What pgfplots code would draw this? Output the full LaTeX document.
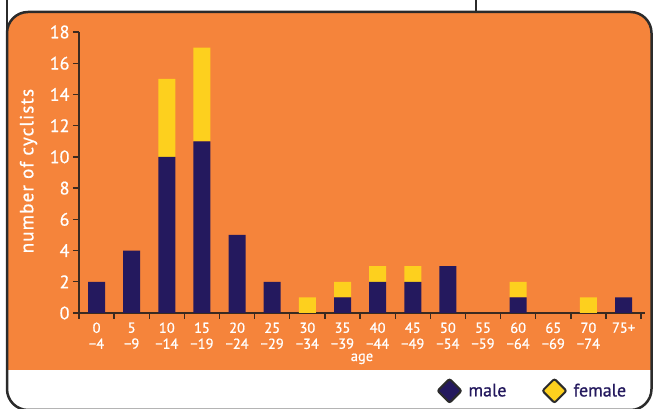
\documentclass[border=0pt]{standalone}
\usepackage{pgfplots}
\pgfplotsset{compat=1.18}
\usepackage{fontspec}
\setmainfont[FakeBold=0.8]{PT Sans}
\newfontfamily\lblfont[LetterSpace=6,FakeBold=0.8]{PT Sans}
\definecolor{bgorange}{HTML}{F5843B}
\definecolor{navy}{HTML}{24195E}
\definecolor{gold}{HTML}{FDD01E}
\definecolor{framec}{HTML}{2B2B2B}
\definecolor{axisc}{HTML}{3A2A20}
\begin{document}
\begin{tikzpicture}
\path[use as bounding box] (0pt,0pt) rectangle (653pt,409pt);
\begin{scope}
\clip[rounded corners=21pt] (7pt,-1pt) rectangle (651.5pt,397pt);
\fill[white] (0pt,-2pt) rectangle (653pt,409pt);
\fill[bgorange] (0pt,39pt) rectangle (653pt,409pt);
\end{scope}
\draw[framec, line width=2.5pt, rounded corners=21pt] (7pt,-1pt) rectangle (651.5pt,397pt);
\draw[framec, line width=2.5pt] (7pt,409pt) -- (7pt,370pt);
\draw[framec, line width=2pt] (476pt,409pt) -- (476pt,397pt);
\begin{axis}[
  at={(79pt,96pt)}, anchor=south west,
  scale only axis, width=566pt, height=281pt,
  xmin=-0.5, xmax=15.61, ymin=0, ymax=18,
  ybar stacked, bar width=17pt,
  axis x line=bottom, axis y line=left,
  axis line style={axisc, line width=1.3pt, -},
  tick style={axisc, line width=1.3pt},
  tick align=outside, major tick length=6pt,
  xtick={-0.5,0.5,...,15.5},
  xticklabels={{0\\−4},{5\\−9},{10\\−14},{15\\−19},{20\\−24},{25\\−29},{30\\−34},{35\\−39},{40\\−44},{45\\−49},{50\\−54},{55\\−59},{60\\−64},{65\\−69},{70\\−74},{75+},{}},
  xticklabel style={xshift=17.56pt, align=center, text=white, font=\fontsize{14.5}{16}\selectfont},
  ytick={0,2,...,18},
  yticklabel style={text=white, font=\fontsize{18}{18}\selectfont},
  /pgf/number format/assume math mode=true,
  xlabel={age},
  xlabel style={at={(axis description cs:0.5,-0.163)}, anchor=center, text=white, font=\fontsize{14.5}{14.5}\selectfont},
  ylabel={number of cyclists},
  ylabel style={at={(axis description cs:-0.0892,0.505)}, anchor=center, text=white, font=\lblfont\fontsize{19}{19}\selectfont},
  legend style={at={(axis description cs:0.626,-0.277)}, anchor=west, draw=none, fill=none,
    font=\fontsize{18}{18}\selectfont, text=navy, legend columns=2,
    /tikz/every odd column/.append style={column sep=4pt},
    /tikz/every even column/.append style={column sep=33pt}},
]
\addplot[fill=navy, draw=none,
  legend image code/.code={\draw[framec, line width=2pt, fill=navy, rounded corners=2pt] (0pt,0pt) -- (12pt,12pt) -- (24pt,0pt) -- (12pt,-12pt) -- cycle;}]
  coordinates {(0,2) (1,4) (2,10) (3,11) (4,5) (5,2) (6,0) (7,1) (8,2) (9,2) (10,3) (11,0) (12,1) (13,0) (14,0) (15,1)};
\addlegendentry{male}
\addplot[fill=gold, draw=none,
  legend image code/.code={\draw[framec, line width=2pt, fill=gold, rounded corners=2pt] (0pt,0pt) -- (12pt,12pt) -- (24pt,0pt) -- (12pt,-12pt) -- cycle;}]
  coordinates {(0,0) (1,0) (2,5) (3,6) (4,0) (5,0) (6,1) (7,1) (8,1) (9,1) (10,0) (11,0) (12,1) (13,0) (14,1) (15,0)};
\addlegendentry{female}
\end{axis}
\end{tikzpicture}
\end{document}
